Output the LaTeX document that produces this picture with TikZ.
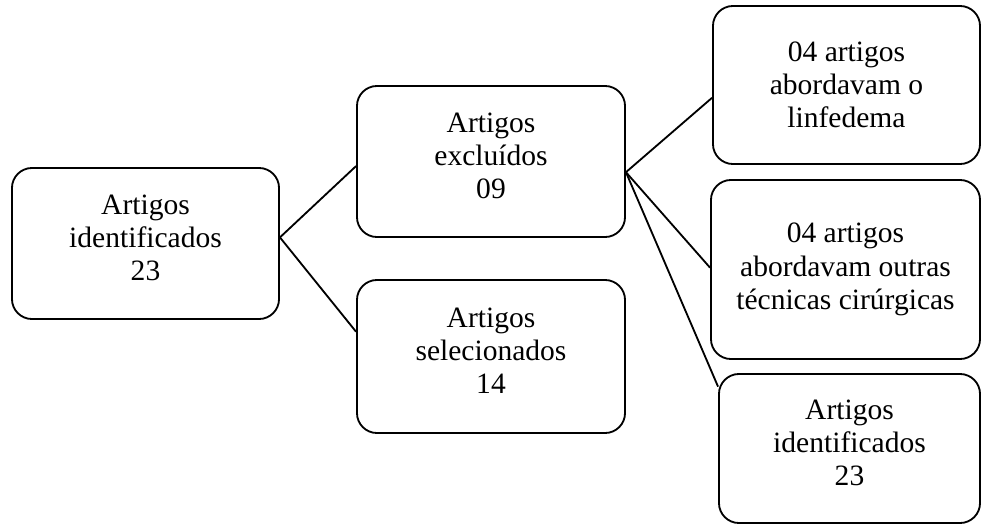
\documentclass[tikz,border=0pt]{standalone}
\usepackage{fontspec}
\setmainfont{Liberation Serif}
\usetikzlibrary{calc}
\begin{document}
\begin{tikzpicture}[line width=1.3pt]
\def\ds{0.025}
\def\pkt#1#2{({(#1)*\ds},{(-#2)*\ds})}
\tikzset{
	kasten/.style={draw,rounded corners=0.5cm,align=center,inner sep=0pt,
		font=\fontsize{21pt}{23.6pt}\selectfont},
	hoch/.style={execute at end node={\rule[-8.5pt]{0pt}{8.5pt}}}
}
\useasboundingbox \pkt{0}{0} rectangle \pkt{981}{524};
\node[kasten,hoch,minimum width=6.675cm,minimum height=3.775cm] (ident) at \pkt{145.5}{243.5} {Artigos\\identificados\\23};
\node[kasten,hoch,minimum width=6.7cm,minimum height=3.775cm] (excl) at \pkt{491}{161.5} {Artigos\\excluídos\\09};
\node[kasten,hoch,minimum width=6.7cm,minimum height=3.825cm] (sel) at \pkt{491}{356.5} {Artigos\\selecionados\\14};
\node[kasten,minimum width=6.675cm,minimum height=3.95cm] (linf) at \pkt{846.5}{85} {04 artigos\\abordavam o\\linfedema};
\node[kasten,minimum width=6.725cm,minimum height=4.475cm] (outras) at \pkt{845.5}{269.5} {04 artigos\\abordavam outras\\técnicas cirúrgicas};
\node[kasten,hoch,minimum width=6.525cm,minimum height=3.725cm] (ident2) at \pkt{849.5}{448.5} {Artigos\\identificados\\23};
\draw ($(ident.north east)!0.46!(ident.south east)$) -- ($(excl.north west)!0.53!(excl.south west)$);
\draw ($(ident.north east)!0.46!(ident.south east)$) -- ($(sel.north west)!0.34!(sel.south west)$);
\foreach \ziel/\f in {linf/0.58,outras/0.49,ident2/0.09}{
	\draw ($(excl.north east)!0.57!(excl.south east)$) -- ($(\ziel.north west)!\f!(\ziel.south west)$);
}
\end{tikzpicture}
\end{document}
